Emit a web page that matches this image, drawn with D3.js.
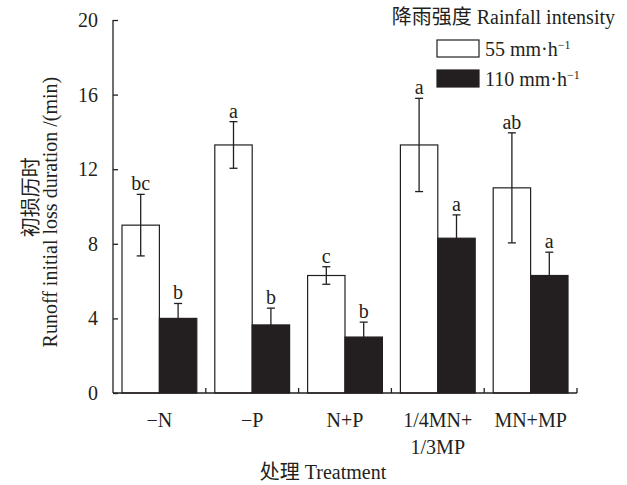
<!DOCTYPE html>
<html>
<head>
<meta charset="utf-8">
<script src="https://cdn.jsdelivr.net/npm/d3@7"></script>
<style>
  body { margin: 0; background: #fff; }
  svg text { font-family: "Liberation Serif", "Times New Roman", "Noto Sans CJK SC", serif; fill: #231f20; }
</style>
</head>
<body>
<div id="wrapper"></div>
<script>
// treatments on the x axis
var treatments = ["−N", "−P", "N+P", "1/4MN+\n1/3MP", "MN+MP"];
// 55 mm/h rainfall
var low = [9.0, 13.3, 6.3, 13.3, 11.0];
var lowErr = [1.65, 1.25, 0.47, 2.5, 2.95];
var lowSig = ["bc", "a", "c", "a", "ab"];
// 110 mm/h rainfall
var high = [4.0, 3.65, 3.0, 8.3, 6.3];
var highErr = [0.8, 0.9, 0.8, 1.25, 1.25];
var highSig = ["b", "b", "b", "a", "a"];
var yTicks = [0, 4, 8, 12, 16, 20];

var ink = "#231f20";
var fs = "20px";
var margin = {top: 20, right: 50, bottom: 92, left: 113},
    width = 627 - margin.left - margin.right,
    height = 485 - margin.top - margin.bottom;

var svg = d3.select("#wrapper").append("svg")
    .attr("width", 627)
    .attr("height", 485)
  .append("g")
    .attr("transform", "translate(" + margin.left + "," + margin.top + ")");

var x0 = d3.scaleBand().domain(treatments).range([0, width]);
var x1 = d3.scaleBand().domain(["low", "high"]).range([9, x0.bandwidth() - 9]);
var y = d3.scaleLinear().domain([0, 20]).range([height, 0]);

// rows for the bars
var rows = [];
treatments.forEach(function(t, i) {
  rows.push({t: t, s: "low", v: low[i], e: lowErr[i], sig: lowSig[i]});
  rows.push({t: t, s: "high", v: high[i], e: highErr[i], sig: highSig[i]});
});

svg.selectAll(".bar")
    .data(rows)
  .enter().append("rect")
    .attr("class", "bar")
    .attr("x", function(d) { return x0(d.t) + x1(d.s); })
    .attr("y", function(d) { return y(d.v); })
    .attr("width", x1.bandwidth())
    .attr("height", function(d) { return height - y(d.v); })
    .attr("fill", function(d) { return d.s === "low" ? "#fff" : ink; })
    .attr("stroke", ink)
    .attr("stroke-width", 1.2);

// error bars
var err = svg.selectAll(".err")
    .data(rows)
  .enter().append("g")
    .attr("class", "err")
    .attr("stroke", ink)
    .attr("stroke-width", 1.3)
    .attr("transform", function(d) { return "translate(" + (x0(d.t) + x1(d.s) + x1.bandwidth() / 2) + ",0)"; });
err.append("line")
    .attr("y1", function(d) { return y(d.v + d.e); })
    .attr("y2", function(d) { return y(d.v - d.e); });
err.append("line")
    .attr("x1", -4).attr("x2", 4)
    .attr("y1", function(d) { return y(d.v + d.e); })
    .attr("y2", function(d) { return y(d.v + d.e); });
err.append("line")
    .attr("x1", -4).attr("x2", 4)
    .attr("y1", function(d) { return y(d.v - d.e); })
    .attr("y2", function(d) { return y(d.v - d.e); });

// significance letters
svg.selectAll(".sig")
    .data(rows)
  .enter().append("text")
    .attr("class", "sig")
    .attr("x", function(d) { return x0(d.t) + x1(d.s) + x1.bandwidth() / 2; })
    .attr("y", function(d) { return y(d.v + d.e) - 4; })
    .attr("text-anchor", "middle")
    .style("font-size", fs)
    .text(function(d) { return d.sig; });

// y axis, ticks inward
var yAxis = svg.append("g")
    .call(d3.axisRight(y).tickValues(yTicks).tickSize(5).tickFormat(d3.format("d")));
yAxis.select(".domain").attr("stroke", ink).attr("stroke-width", 1.3).attr("d", "M0,0V" + height);
yAxis.selectAll(".tick line").attr("stroke", ink).attr("stroke-width", 1.3);
yAxis.selectAll(".tick text")
    .attr("x", -15)
    .attr("text-anchor", "end")
    .style("font-size", fs);

// x axis, group separators pointing up
svg.append("line")
    .attr("x1", 0).attr("x2", width)
    .attr("y1", height).attr("y2", height)
    .attr("stroke", ink).attr("stroke-width", 1.5);
svg.selectAll(".sep")
    .data(treatments)
  .enter().append("line")
    .attr("x1", function(d) { return x0(d) + x0.bandwidth(); })
    .attr("x2", function(d) { return x0(d) + x0.bandwidth(); })
    .attr("y1", height).attr("y2", height - 5)
    .attr("stroke", ink).attr("stroke-width", 1.3);

svg.selectAll(".xlab")
    .data(treatments)
  .enter().append("text")
    .attr("class", "xlab")
    .attr("x", function(d) { return x0(d) + x0.bandwidth() / 2; })
    .attr("y", height + 34)
    .attr("text-anchor", "middle")
    .style("font-size", fs)
    .each(function(d) {
      var parts = d.split("\n");
      var t = d3.select(this);
      parts.forEach(function(p, i) {
        t.append("tspan").attr("x", x0(d) + x0.bandwidth() / 2).attr("dy", i ? "1.35em" : 0).text(p);
      });
    });

// axis titles
svg.append("text")
    .attr("x", 210)
    .attr("y", height + 86)
    .attr("text-anchor", "middle")
    .style("font-size", fs)
    .text("处理 Treatment");

svg.append("text")
    .attr("transform", "translate(-75," + (y(10.5)) + ") rotate(-90)")
    .attr("text-anchor", "middle")
    .style("font-size", fs)
    .text("初损历时");
svg.append("text")
    .attr("transform", "translate(-56," + (y(9.7)) + ") rotate(-90)")
    .attr("text-anchor", "middle")
    .style("font-size", fs)
    .text("Runoff initial loss duration /(min)");

// legend
var legend = svg.append("g").attr("transform", "translate(" + (627 - margin.left - 12) + ",0)");
legend.append("text")
    .attr("x", 0).attr("y", 4)
    .attr("text-anchor", "end")
    .style("font-size", fs)
    .text("降雨强度 Rainfall intensity");
var keys = [{fill: "#fff", label: "55 mm·h"}, {fill: ink, label: "110 mm·h"}];
var item = legend.selectAll(".key")
    .data(keys)
  .enter().append("g")
    .attr("class", "key")
    .attr("transform", function(d, i) { return "translate(-178," + (20 + i * 30) + ")"; });
item.append("rect")
    .attr("width", 42).attr("height", 17)
    .attr("fill", function(d) { return d.fill; })
    .attr("stroke", ink).attr("stroke-width", 1.2);
var lt = item.append("text")
    .attr("x", 48).attr("y", 16)
    .style("font-size", fs)
    .text(function(d) { return d.label; });
lt.append("tspan")
    .attr("dy", -7)
    .style("font-size", "12px")
    .text("−1");
</script>
</body>
</html>
